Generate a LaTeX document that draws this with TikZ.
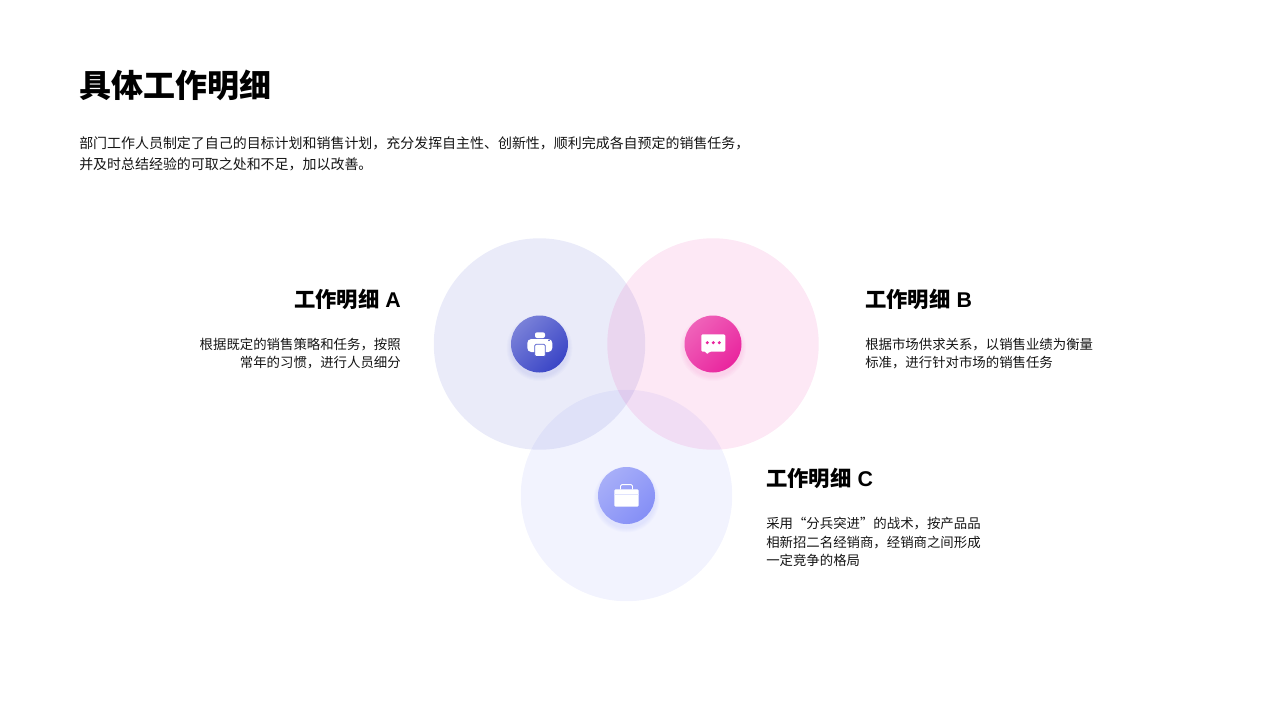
\documentclass[tikz,border=0pt]{standalone}
\usepackage{fontspec}
\setmainfont{Noto Sans CJK SC}
\newfontfamily\latinfont{Liberation Sans}
\definecolor{blueA}{HTML}{3A45C6}
\definecolor{pinkB}{HTML}{E9259E}
\definecolor{violetC}{HTML}{858FF6}
\tikzset{
	bigcircle/.style={circle,minimum size=158.6pt,inner sep=0pt,fill opacity=0.105},
	iconcircle/.style={circle,minimum size=42.75pt,inner sep=0pt},
	titletext/.style={anchor=west,inner sep=0pt,font=\fontsize{24}{28}\selectfont\bfseries},
	introtext/.style={anchor=west,inner sep=0pt,align=left,text=black!92,font=\fontsize{10.47}{15.75}\selectfont},
	headtext/.style={inner sep=0pt,font=\fontsize{16}{20}\selectfont\bfseries},
	bodytext/.style={inner sep=0pt,text=black!92,font=\fontsize{10.05}{13.9}\selectfont},
}
\begin{document}
\begin{tikzpicture}[x=0.75pt,y=-0.75pt]
			\useasboundingbox (0,0) rectangle (1280,720);

			% big circles
			\begin{scope}[every node/.style={bigcircle}]
				\node [fill=violetC] (C) at (626.5,495.5) {};
				\node [fill=blueA] (A) at (539.5,344) {};
				\node [fill=pinkB] (B) at (713,344) {};
			\end{scope}

			% soft shadows
			\foreach \r in {29,30,31,32,33} {
				\fill [blueA,opacity=0.025] (539.5,348) circle (\r);
				\fill [pinkB,opacity=0.025] (713,348) circle (\r);
				\fill [violetC,opacity=0.035] (626.5,499.5) circle (\r);
			}

			% icon circles
			\node [iconcircle,top color=blueA!68!white,middle color=blueA,bottom color=blueA,shading angle=45] (iconA) at (539.5,344) {};
			\node [iconcircle,top color=pinkB!72!white,middle color=pinkB,bottom color=pinkB,shading angle=45] (iconB) at (713,344) {};
			\node [iconcircle,top color=violetC!72!white,middle color=violetC,bottom color=violetC,shading angle=45] (iconC) at (626.5,495.5) {};

			% printer
			\fill [white,rounded corners=1.5pt] (535,332.3) rectangle (545,338);
			\fill [white,rounded corners=3pt] (527.3,352) -- (527.3,339) -- (552.3,339) -- (552.3,352) -- cycle;
			\fill [white,draw=blueA!90,line width=0.6pt,rounded corners=1pt] (534.7,344.3) rectangle (545.3,356.6);
			\fill [blueA] (549,340.3) circle (0.9);

			% chat bubble
			\fill [white,rounded corners=1pt] (701.3,334.3) -- (725.3,334.3) -- (725.3,351.7) -- (709.5,351.7) -- (706.7,354.6) -- (706.2,351.7) -- (701.3,351.7) -- cycle;
			\foreach \x in {707.3,713.3,719.3}
				\fill [pinkB] (\x,342.7) circle (1.7);

			% briefcase
			\draw [white,line width=0.7pt,rounded corners=1pt] (620.5,489.3) -- (620.5,484.7) -- (632.5,484.7) -- (632.5,489.3);
			\fill [white,rounded corners=1pt] (614.3,489.3) rectangle (638.7,506.7);
			\draw [violetC!25!white,line width=0.3pt] (614.3,494.3) -- (638.7,494.3);

			% texts
			\node [titletext] (title) at (79,85) {具体工作明细};
			\node [introtext] (intro) at (79,154) {部门工作人员制定了自己的目标计划和销售计划，充分发挥自主性、创新性，顺利完成各自预定的销售任务，\\并及时总结经验的可取之处和不足，加以改善。};

			\node [headtext,anchor=east] (headA) at (401,299) {工作明细{\latinfont\ A}};
			\node [bodytext,anchor=east,align=right] (textA) at (401,353.5) {根据既定的销售策略和任务，按照\\常年的习惯，进行人员细分};

			\node [headtext,anchor=west] (headB) at (865,299) {工作明细{\latinfont\ B}};
			\node [bodytext,anchor=west,align=left] (textB) at (865,353.5) {根据市场供求关系，以销售业绩为衡量\\标准，进行针对市场的销售任务};

			\node [headtext,anchor=west] (headC) at (766,478) {工作明细{\latinfont\ C}};
			\node [bodytext,anchor=west,align=left] (textC) at (766,542) {采用“分兵突进”的战术，按产品品\\相新招二名经销商，经销商之间形成\\一定竞争的格局};
		\end{tikzpicture}
\end{document}
